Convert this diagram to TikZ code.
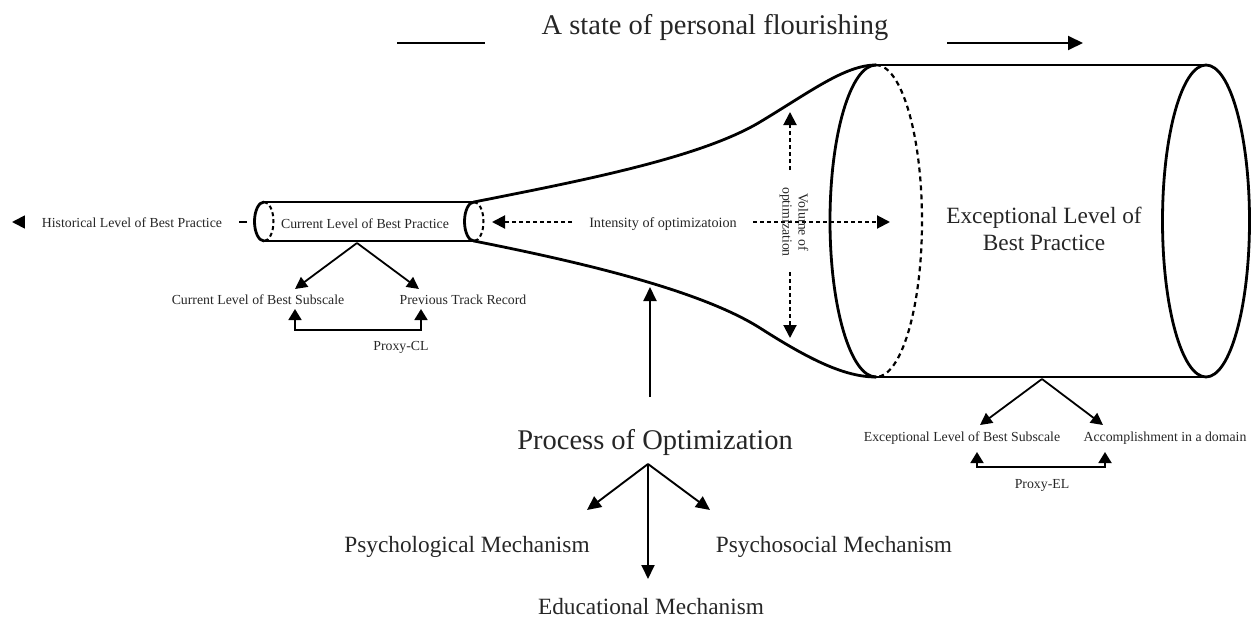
\documentclass[tikz,border=0pt]{standalone}
\usepackage{fontspec}
\setmainfont{Liberation Serif}
\usetikzlibrary{arrows.meta}
\begin{document}
\begin{tikzpicture}[x=1pt,y=-1pt,
  txt/.style={inner sep=0pt, anchor=base, text=black!85},
  sm/.style={txt, font=\fontsize{13.8}{16}\selectfont},
  md/.style={txt, font=\fontsize{23.3}{27}\selectfont},
  lg/.style={txt, font=\fontsize{28.5}{33}\selectfont},
  body/.style={line width=2.8pt, line cap=round, line join=round},
  dashbody/.style={line width=2pt, dash pattern=on 4pt off 3pt},
  arr/.style={line width=1.8pt, -{Triangle[length=12pt,width=12pt]}},
  bigarr/.style={line width=1.9pt, -{Triangle[length=14pt,width=13pt]}},
  darr/.style={line width=2pt, dash pattern=on 4pt off 3pt, -{Triangle[length=13pt,width=13pt]}},
  proxy/.style={line width=1.8pt, {Triangle[length=11pt,width=13pt]}-{Triangle[length=11pt,width=13pt]}}
]
\useasboundingbox (0,0) rectangle (1256,618);

% ---------- title ----------
\node[lg] (title) at (715,35) {A state of personal flourishing};
\coordinate (tl1) at (397,43);
\coordinate (tl2) at (485,43);
\coordinate (tr1) at (947,43);
\coordinate (tr2) at (1083,43);
\draw[line width=1.9pt] (tl1) -- (tl2);
\draw[line width=1.9pt, -{Triangle[length=15pt,width=14pt]}] (tr1) -- (tr2);

% ---------- small tube ----------
\coordinate (sLT) at (264,202);
\coordinate (sLB) at (264,241);
\coordinate (sRT) at (474,202);
\coordinate (sRB) at (474,241);
\draw[body] (sLT) arc[start angle=90,end angle=270,x radius=9.5pt,y radius=19.5pt];
\draw[dashbody] (sLT) arc[start angle=90,end angle=-90,x radius=9.5pt,y radius=19.5pt];
\draw[body] (sRT) arc[start angle=90,end angle=270,x radius=9.5pt,y radius=19.5pt];
\draw[dashbody] (sRT) arc[start angle=90,end angle=-90,x radius=9.5pt,y radius=19.5pt];
\draw[body] (sLT) -- (sRT);
\draw[body] (sLB) -- (sRB);

% ---------- funnel ----------
\coordinate (bLT) at (876,65);
\coordinate (bLB) at (876,377);
\coordinate (bRT) at (1206,65);
\coordinate (bRB) at (1206,377);
\draw[body] (sRT) .. controls (580,181) and (700,158) .. (760,122)
                  .. controls (810,92) and (845,65) .. (bLT);
\draw[body] (sRB) .. controls (580,262) and (700,290) .. (760,328)
                  .. controls (810,360) and (845,377) .. (bLB);

% ---------- big cylinder ----------
\draw[body] (bLT) arc[start angle=90,end angle=270,x radius=46pt,y radius=156pt];
\draw[line width=2.2pt, dash pattern=on 5pt off 4pt] (bLT) arc[start angle=90,end angle=-90,x radius=46pt,y radius=156pt];
\draw[body] (bLT) -- (bRT);
\draw[body] (bLB) -- (bRB);
\draw[body] (1206,221) ellipse[x radius=43.5pt,y radius=156pt];
\node[md, align=center, anchor=center] (excel) at (1044,229) {Exceptional Level of\\Best Practice};

% ---------- current level ----------
\node[sm] (current) at (365,228) {Current Level of Best Practice};
\coordinate (histS) at (247,222);
\coordinate (histE) at (12,222);
\draw[line width=1.8pt, -{Triangle[length=13pt,width=13pt]}] (histS) -- (histE);
\node[sm, fill=white, inner xsep=17pt, inner ysep=3pt] (hist) at (132,227) {Historical Level of Best Practice};

\coordinate (clO) at (357,243);
\node[sm] (clSub) at (258,304) {Current Level of Best Subscale};
\node[sm] (clPrev) at (463,304) {Previous Track Record};
\coordinate (clA) at (295,289);
\coordinate (clB) at (419,289);
\draw[arr] (clO) -- (clA);
\draw[arr] (clO) -- (clB);
\coordinate (pclA) at (295,309);
\coordinate (pclB) at (421,309);
\draw[proxy] (pclA) -- (295,330) -- (421,330) -- (pclB);
\node[sm] (proxyCL) at (401,350) {Proxy-CL};

% ---------- intensity / volume ----------
\node[sm, font=\fontsize{14.2}{16}\selectfont] (intens) at (663,227) {Intensity of optimizatoion};
\coordinate (inL1) at (572,222);
\coordinate (inL2) at (492,222);
\coordinate (inR1) at (753,222);
\coordinate (inR2) at (890,222);
\draw[darr] (inL1) -- (inL2);
\draw[darr] (inR1) -- (inR2);
\node[txt, anchor=center, align=center, rotate=-90, font=\fontsize{13.8}{16}\selectfont] (volume) at (794,222) {Volume of\\optimization};
\coordinate (vU1) at (790,170);
\coordinate (vU2) at (790,112);
\coordinate (vD1) at (790,272);
\coordinate (vD2) at (790,338);
\draw[darr] (vU1) -- (vU2);
\draw[darr] (vD1) -- (vD2);

% ---------- exceptional level subscale ----------
\coordinate (elO) at (1042,379);
\node[sm] (elSub) at (962,441) {Exceptional Level of Best Subscale};
\node[sm] (elAcc) at (1165,441) {Accomplishment in a domain};
\coordinate (elA) at (980,425);
\coordinate (elB) at (1103,425);
\draw[arr] (elO) -- (elA);
\draw[arr] (elO) -- (elB);
\coordinate (pelA) at (977,452);
\coordinate (pelB) at (1105,452);
\draw[proxy] (pelA) -- (977,467) -- (1105,467) -- (pelB);
\node[sm] (proxyEL) at (1042,488) {Proxy-EL};

% ---------- process of optimization ----------
\node[lg] (process) at (655,449) {Process of Optimization};
\coordinate (pUp1) at (650,397);
\coordinate (pUp2) at (650,287);
\draw[bigarr] (pUp1) -- (pUp2);
\coordinate (pO) at (648,464);
\coordinate (pA) at (587,510);
\coordinate (pB) at (710,510);
\coordinate (pC) at (648,579);
\draw[bigarr] (pO) -- (pA);
\draw[bigarr] (pO) -- (pB);
\draw[bigarr] (pO) -- (pC);
\node[md] (psycho) at (467,552) {Psychological Mechanism};
\node[md] (psychos) at (834,552) {Psychosocial Mechanism};
\node[md] (educ) at (651,614) {Educational Mechanism};
\end{tikzpicture}
\end{document}
